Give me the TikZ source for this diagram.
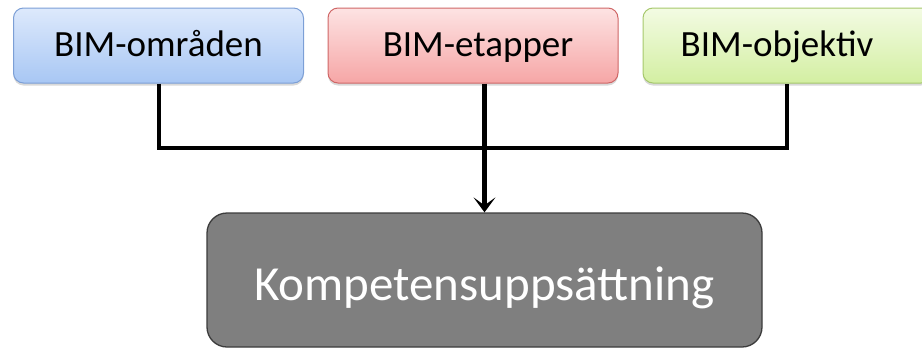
\documentclass[tikz,border=0pt]{standalone}
\usepackage{fontspec}
\setmainfont{Carlito}
\usetikzlibrary{arrows.meta,shadows}
\definecolor{blueTop}{HTML}{DDE9FC}
\definecolor{blueBot}{HTML}{A8C7F4}
\definecolor{blueEdge}{HTML}{7C9FD6}
\definecolor{redTop}{HTML}{FDE3E3}
\definecolor{redBot}{HTML}{F6A6A6}
\definecolor{redEdge}{HTML}{CF6767}
\definecolor{greenTop}{HTML}{F3FBE3}
\definecolor{greenBot}{HTML}{D3EFA2}
\definecolor{greenEdge}{HTML}{A6C86C}
\definecolor{skillFill}{HTML}{7F7F7F}
\definecolor{skillEdge}{HTML}{3C3C3C}
\tikzset{
  topbox/.style={rounded corners=10pt, line width=1pt, minimum width=290pt,
    minimum height=75pt, inner sep=0pt, text height=27pt, text depth=5pt,
    font=\fontsize{37}{40}\selectfont,
    drop shadow={shadow xshift=0pt, shadow yshift=-2.5pt, opacity=0.3}},
  toplabel/.style={inner sep=0pt, text height=27pt, text depth=5pt,
    font=\fontsize{37}{40}\selectfont},
  skillbox/.style={rounded corners=20pt, line width=1.3pt, draw=skillEdge,
    fill=skillFill, minimum width=555pt, minimum height=134pt, inner sep=0pt,
    text height=40pt, text depth=0pt,
    text=white, font=\fontsize{49}{52}\selectfont},
  wire/.style={line width=4pt, black},
}
\begin{document}
\begin{tikzpicture}[x=1pt,y=-1pt]
  \useasboundingbox (0,0) rectangle (922,349);
  % input categories
  \node[topbox, draw=blueEdge, top color=blueTop, bottom color=blueBot] (omr) at (158.5,45.5) {BIM-områden};
  \node[topbox, draw=redEdge, top color=redTop, bottom color=redBot] (etp) at (473,45.5) {\hspace*{10pt}BIM-etapper};
  \node[topbox, draw=greenEdge, top color=greenTop, bottom color=greenBot, minimum width=288pt] (obj) at (787,45.5) {};
  \node[toplabel] (objtext) at (777,45.5) {BIM-objektiv};
  % resulting competence set
  \node[skillbox] (kom) at (484.5,280) {Kompetensuppsättning};
  % connectors
  \coordinate (bus) at (0,148);
  \draw[wire] (omr.south) |- (bus -| obj.south) -- (obj.south);
  \draw[wire, line width=4.5pt, -{Stealth[length=15pt,width=22pt,inset=8pt]}] (kom.north |- etp.south) -- (kom.north);
\end{tikzpicture}
\end{document}
